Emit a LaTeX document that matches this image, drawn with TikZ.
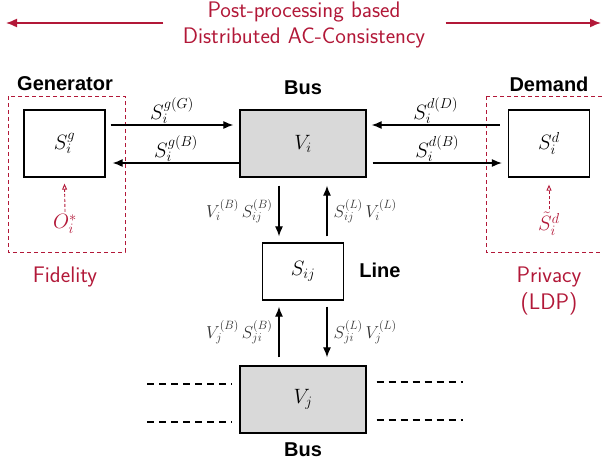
\documentclass[tikz,border=0pt]{standalone}
\usepackage{fontspec}
\newfontfamily\arialbold{Liberation Sans}[BoldFont={* Bold}]
\usetikzlibrary{arrows.meta}
\definecolor{myred}{RGB}{178,24,56}
\definecolor{busgray}{RGB}{217,217,217}
\begin{document}
\begin{tikzpicture}[x=1pt,y={(0pt,-1pt)},
  every node/.style={font=\fontsize{22.5}{26}\selectfont\sffamily},
  box/.style={draw,line width=1.3pt,minimum width=81pt,minimum height=67pt,inner sep=0pt,font=\fontsize{20}{24}\selectfont},
  busbox/.style={box,fill=busgray,minimum width=126pt},
  linebox/.style={box,minimum height=57pt},
  arr/.style={line width=1.2pt,-{Latex[length=10pt,width=8pt]}},
  redarr/.style={myred,line width=0.9pt,dash pattern=on 3pt off 2pt,-{Triangle[open,length=6pt,width=5pt]}},
  redbox/.style={draw=myred,line width=1pt,dash pattern=on 4pt off 3pt},
  bigarr/.style={myred,line width=1.5pt,-{Latex[length=11pt,width=9pt]}},
  lbl/.style={font=\fontsize{20}{24}\selectfont\arialbold\bfseries},
  mlbl/.style={font=\fontsize{20}{24}\selectfont},
  vlbl/.style={font=\fontsize{18.5}{22}\selectfont,text=black!80},
  buslines/.style={line width=1.2pt,dash pattern=on 7pt off 5pt}]
\useasboundingbox (0,0) rectangle (602,466);

% title
\node[myred,align=center] (title) at (304,25) {Post-processing based\\Distributed AC-Consistency};
\coordinate (tl) at (6,23);
\coordinate (tr) at (601,23);
\draw[bigarr] ([xshift=-16pt]title.west |- tl) -- (tl);
\draw[bigarr] ([xshift=17pt]title.east |- tr) -- (tr);

% red dashed boxes
\coordinate (fa) at (8,96);
\coordinate (fb) at (125,252);
\coordinate (pa) at (486,96);
\coordinate (pb) at (612,252);
\draw[redbox] (fa) rectangle (fb);
\draw[redbox] (pa) rectangle (pb);

% nodes
\node[box] (gen) at (64.5,143.5) {$S_i^g$};
\node[busbox] (busi) at (303,143.5) {$V_i$};
\node[box] (dem) at (549,143.5) {$S_i^d$};
\node[linebox] (line) at (303,271.5) {$S_{ij}$};
\node[busbox] (busj) at (303,399.5) {$V_j$};

% labels
\node[lbl] (genlbl) at (65,84) {Generator};
\node[lbl] (demlbl) at (549,84) {Demand};
\node[lbl] (busilbl) at (303,88) {Bus};
\node[lbl] (linelbl) at (380,270) {Line};
\node[lbl] (busjlbl) at (303,450) {Bus};
\node[myred] (fid) at (65,277) {Fidelity};
\node[myred,align=center,font=\fontsize{22.5}{27}\selectfont\sffamily] (priv) at (549,291) {Privacy\\(LDP)};

% red inputs
\node[myred,mlbl] (ostar) at (65,224) {$O_i^*$};
\node[myred,mlbl] (stil) at (549,224) {$\tilde S_i^d$};
\draw[redarr] ([yshift=-1pt]ostar.north) -- ([yshift=-6pt]gen.south);
\draw[redarr] ([yshift=-1pt]stil.north) -- ([yshift=-7pt]dem.south);

% generator <-> bus
\draw[arr] ([xshift=5pt,yshift=18.5pt]gen.east) -- node[above,mlbl,inner sep=1pt] {$S_i^{g(G)}$} ([xshift=-6pt,yshift=18.5pt]busi.west);
\draw[arr] ([yshift=-19.5pt]busi.west) -- node[above,mlbl,inner sep=1pt] {$S_i^{g(B)}$} ([xshift=7pt,yshift=-19.5pt]gen.east);

% demand <-> bus
\draw[arr] ([xshift=-8pt,yshift=18.5pt]dem.west) -- node[above,mlbl,inner sep=1pt] {$S_i^{d(D)}$} ([xshift=5pt,yshift=18.5pt]busi.east);
\draw[arr] ([xshift=6pt,yshift=-19.5pt]busi.east) -- node[above,mlbl,inner sep=1pt] {$S_i^{d(B)}$} ([xshift=-6pt,yshift=-19.5pt]dem.west);

% bus i <-> line
\draw[arr] ([xshift=-24pt,yshift=-8pt]busi.south) -- node[left,vlbl,inner sep=6pt] {$V_i^{(B)}\,S_{ij}^{(B)}$} ([xshift=-24pt,yshift=6pt]line.north);
\draw[arr] ([xshift=24pt,yshift=6pt]line.north) -- node[right,vlbl,inner sep=6pt] {$S_{ij}^{(L)}\,V_i^{(L)}$} ([xshift=24pt,yshift=-8pt]busi.south);

% bus j <-> line
\draw[arr] ([xshift=-24pt,yshift=8pt]busj.north) -- node[left,vlbl,inner sep=6pt] {$V_j^{(B)}\,S_{ji}^{(B)}$} ([xshift=-24pt,yshift=-6pt]line.south);
\draw[arr] ([xshift=24pt,yshift=-6pt]line.south) -- node[right,vlbl,inner sep=6pt] {$S_{ji}^{(L)}\,V_j^{(L)}$} ([xshift=24pt,yshift=8pt]busj.north);

% dashed bus continuation lines
\coordinate (l1) at (147,384);
\coordinate (l2) at (147,422);
\coordinate (r1) at (463,382);
\coordinate (r2) at (463,420);
\draw[buslines] (l1) -- ([xshift=-8pt]busj.west |- l1);
\draw[buslines] (l2) -- ([xshift=-8pt]busj.west |- l2);
\draw[buslines] ([xshift=10pt]busj.east |- r1) -- (r1);
\draw[buslines] ([xshift=10pt]busj.east |- r2) -- (r2);
\end{tikzpicture}
\end{document}
